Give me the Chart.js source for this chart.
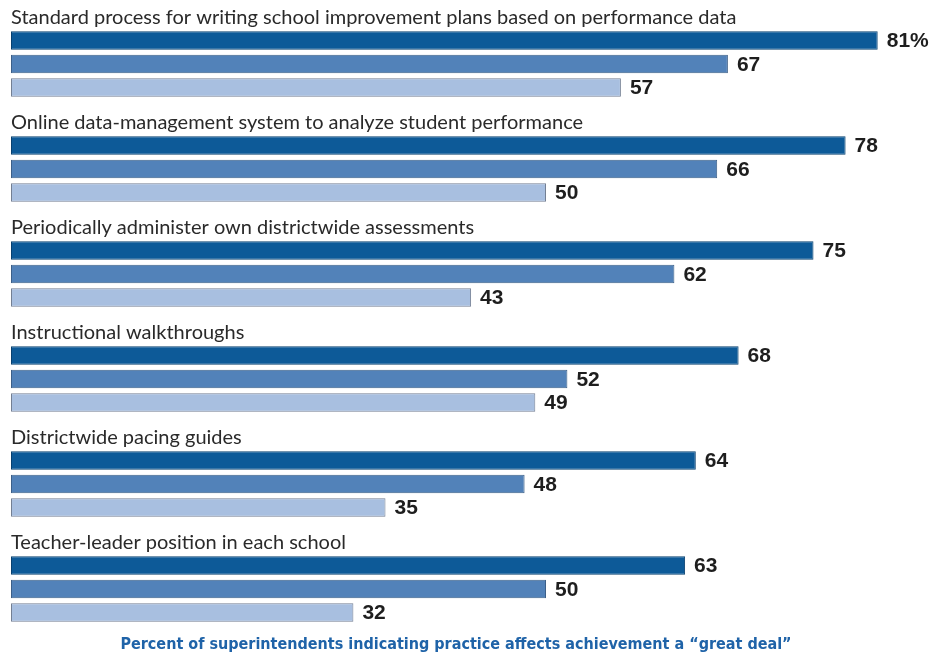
<!DOCTYPE html>
<html>
<head>
<meta charset="utf-8">
<script src="https://cdn.jsdelivr.net/npm/chart.js@4"></script>
<style>
  html, body { margin: 0; padding: 0; background: #fff; }
  #wrap { width: 943px; height: 655px; }
</style>
</head>
<body>
<div id="wrap"><canvas id="practiceChart" width="943" height="655"></canvas></div>
<script>
// practices and % of superintendents (three groups per practice)
const categories = [
    'Standard process for writing school improvement plans based on performance data',
    'Online data-management system to analyze student performance',
    'Periodically administer own districtwide assessments',
    'Instructional walkthroughs',
    'Districtwide pacing guides',
    'Teacher-leader position in each school'
];
const seriesDark = [81, 78, 75, 68, 64, 63];
const seriesMid = [67, 66, 62, 52, 48, 50];
const seriesLight = [57, 50, 43, 49, 35, 32];
const footnote = 'Percent of superintendents indicating practice affects achievement a \u201cgreat deal\u201d';

// draws category text above each group, value labels and the footnote
const labelPlugin = {
    id: 'labelPlugin',
    afterDatasetsDraw(chart) {
        const ctx = chart.ctx;
        ctx.save();

        // category names sit just above the first bar of each group
        const first = chart.getDatasetMeta(0);
        ctx.font = '20px Lato, "Open Sans", sans-serif';
        ctx.fillStyle = '#2a2a2a';
        ctx.textAlign = 'left';
        ctx.textBaseline = 'alphabetic';
        first.data.forEach((bar, i) => {
            const top = bar.y - bar.height / 2;
            ctx.fillText(categories[i], chart.chartArea.left, top - 7);
        });

        // values at the end of each bar
        ctx.font = 'bold 21px "Liberation Sans", Arial, sans-serif';
        ctx.fillStyle = '#1e1e1e';
        ctx.textBaseline = 'middle';
        chart.data.datasets.forEach((ds, d) => {
            chart.getDatasetMeta(d).data.forEach((bar, i) => {
                const v = ds.data[i];
                const txt = (d === 0 && i === 0) ? v + '%' : String(v);
                ctx.fillText(txt, bar.x + 9, bar.y + 1);
            });
        });

        // footnote
        ctx.font = 'bold 16px "Liberation Sans Narrow", "DejaVu Sans Condensed", sans-serif';
        ctx.fillStyle = '#1f63a8';
        ctx.textAlign = 'center';
        ctx.fillText(footnote, 456, 645);
        ctx.restore();
    }
};

new Chart(document.getElementById('practiceChart'), {
    type: 'bar',
    data: {
        labels: categories,
        datasets: [
            { data: seriesDark, backgroundColor: '#0d5a98', borderColor: '#08406f' },
            { data: seriesMid, backgroundColor: '#5282b9', borderColor: '#3c5f88' },
            { data: seriesLight, backgroundColor: '#a8bfe0', borderColor: '#737f93' }
        ]
    },
    options: {
        indexAxis: 'y',
        responsive: false,
        animation: false,
        devicePixelRatio: 1,
        datasets: {
            bar: {
                categoryPercentage: 0.672,
                barPercentage: 0.787,
                borderWidth: 1,
                borderSkipped: false
            }
        },
        layout: { padding: { left: 11, right: 11.8, top: 11.5, bottom: 13.5 } },
        scales: {
            x: { display: false, min: 0, max: 86 },
            y: { display: false }
        },
        plugins: {
            legend: { display: false },
            tooltip: { enabled: false }
        }
    },
    plugins: [labelPlugin]
});
</script>
</body>
</html>
